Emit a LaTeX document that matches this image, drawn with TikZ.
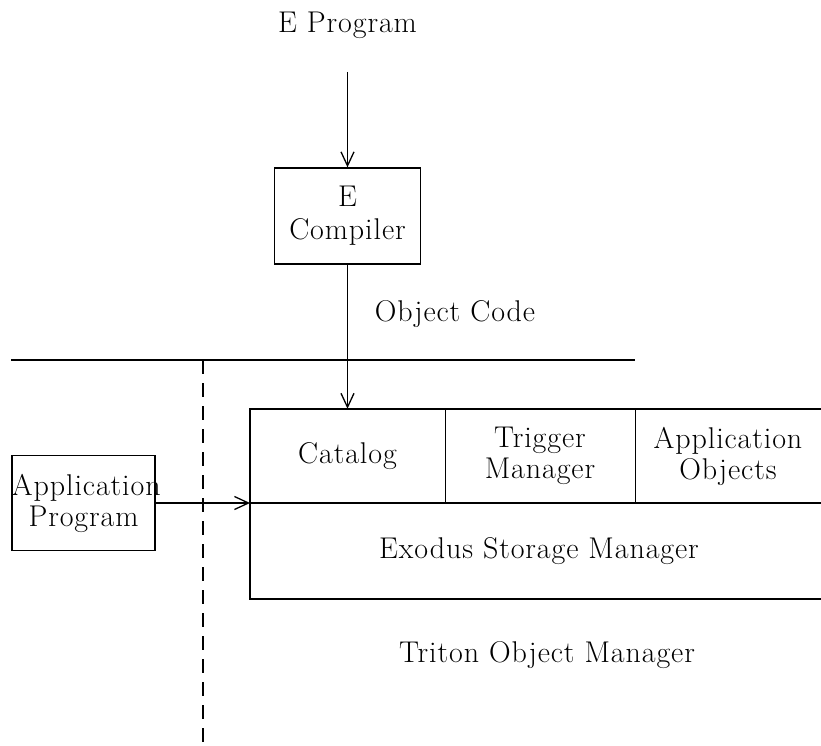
\documentclass[tikz,border=0pt]{standalone}
\usepackage{fontspec}
\setmainfont{Latin Modern Roman}[LetterSpace=3]
\usetikzlibrary{arrows.meta}
\begin{document}
\begin{tikzpicture}[x=1pt,y=-1pt,
  every node/.style={font=\fontsize{30}{31}\selectfont, inner sep=0pt, align=center},
  ln/.style={line width=1.3pt},
  arr/.style={ln, -{Straight Barb[length=14pt,width=13pt,line width=1.3pt]}},
]
\useasboundingbox (0,0) rectangle (821,746);
% top label
\node (eprog) at (347.5,25) {E Program};
\coordinate (estart) at (347.5,72);
% compiler
\node[draw, ln, minimum width=146pt, minimum height=96pt, font=\fontsize{30}{33}\selectfont] (comp) at (347.5,216) {E\\Compiler};
\node (objcode) at (455,314) {Object Code};
% separator lines
\coordinate (hl) at (11,360);
\coordinate (hr) at (635,360);
\draw[ln] (hl) -- (hr);
\coordinate (dtop) at (203,360);
\coordinate (dbot) at (203,746);
\draw[ln, dash pattern=on 14pt off 9pt] (dtop) -- (dbot);
% big box cells (drawn by lines, right side open)
\node[minimum width=195pt, minimum height=94pt] (catalog) at (347.5,456) {Catalog};
\node[minimum width=190pt, minimum height=94pt] (trigger) at (540,456) {Trigger\\Manager};
\node[minimum width=186pt, minimum height=94pt] (appobj) at (728,456) {Application\\Objects};
\node[minimum width=571pt, minimum height=96pt] (exodus) at (535.5,551) {};
\node (exodustext) at (539,551) {Exodus Storage Manager};
\coordinate (bbtl) at (250,409);
\coordinate (bbtr) at (821,409);
\coordinate (bbml) at (250,503);
\coordinate (bbmr) at (821,503);
\coordinate (bbbl) at (250,599);
\coordinate (bbbr) at (821,599);
\draw[ln] (bbtr) -- (bbtl) -- (bbbl) -- (bbbr);
\draw[ln] (bbml) -- (bbmr);
\draw[ln] (catalog.north east) -- (catalog.south east);
\draw[ln] (trigger.north east) -- (trigger.south east);
\node (triton) at (547,655) {Triton Object Manager};
% application program
\node[draw, ln, text width=143pt, minimum height=95pt] (appprog) at (83.5,503) {Application\\Program};
% arrows
\draw[arr] (estart) -- (comp.north);
\draw[arr] (comp.south) -- (catalog.north);
\draw[arr] (appprog.east) -- (bbml);
\end{tikzpicture}
\end{document}
